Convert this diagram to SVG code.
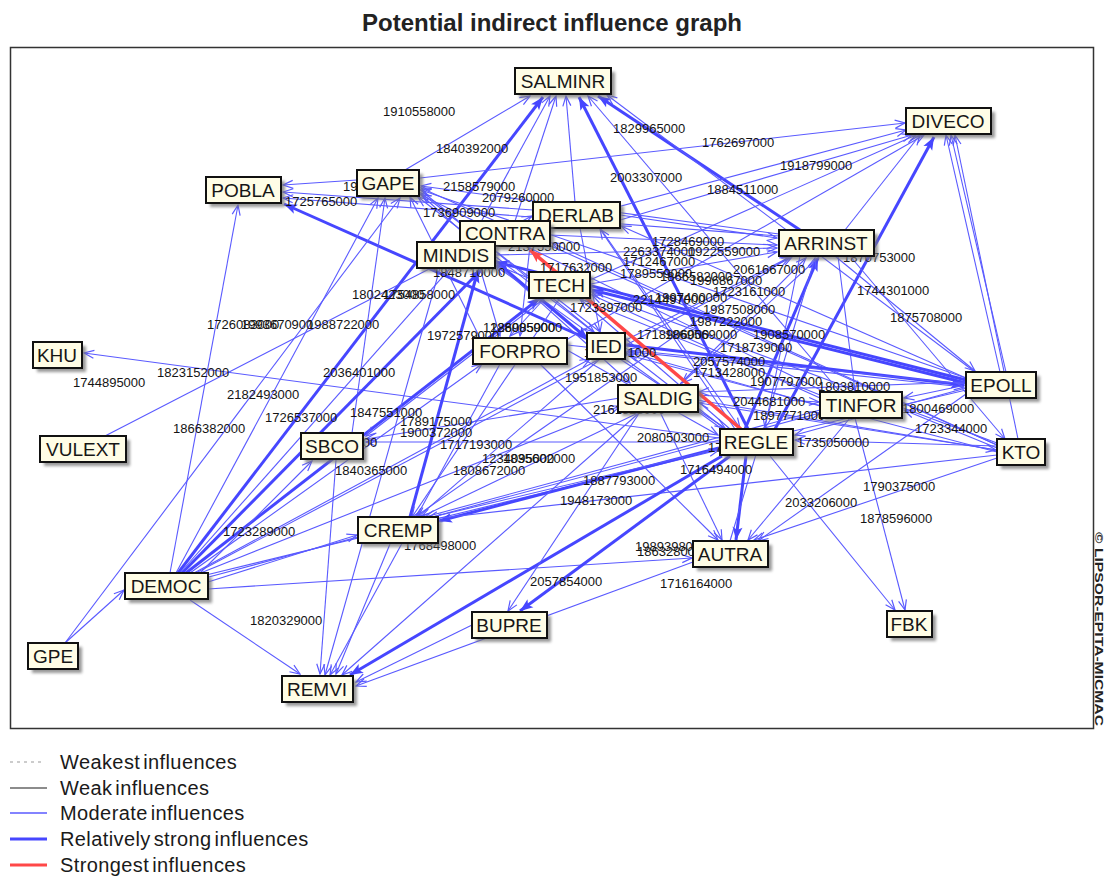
<svg xmlns="http://www.w3.org/2000/svg" width="1107" height="878" viewBox="0 0 1107 878">
<style>
.m{stroke:#5a5aff;stroke-width:1.1;fill:none;marker-end:url(#am)}
.s{stroke:#4646ff;stroke-width:3;fill:none;marker-end:url(#as)}
.r{stroke:#ff4848;stroke-width:3.6;fill:none;marker-end:url(#ar)}
.nb{fill:#fffde6;stroke:#111;stroke-width:2}
.sh{fill:#777;opacity:.75;filter:url(#blur)}
.nt{font-family:"Liberation Sans",Arial,sans-serif;font-size:19px;fill:#161616;text-anchor:middle}
.el text{font-family:"Liberation Sans",Arial,sans-serif;font-size:13px;fill:#141414}
.lg{font-family:"Liberation Sans",Arial,sans-serif;font-size:20px;fill:#1a1a1a;letter-spacing:0.4px;word-spacing:-3px}
</style>
<defs>
<filter id="blur" x="-20%" y="-20%" width="140%" height="140%"><feGaussianBlur stdDeviation="1.5"/></filter>
<marker id="am" viewBox="-12 -6 13 12" refX="0" refY="0" markerWidth="13" markerHeight="12" markerUnits="userSpaceOnUse" orient="auto"><path d="M-10,-4 L0,0 L-10,4" fill="none" stroke="#5a5aff" stroke-width="1.2"/></marker>
<marker id="as" viewBox="-15 -7 16 14" refX="0" refY="0" markerWidth="16" markerHeight="14" markerUnits="userSpaceOnUse" orient="auto"><path d="M-13,-5 L0,0 L-13,5 L-10,0 Z" fill="#4646ff"/></marker>
<marker id="ar" viewBox="-15 -7 16 14" refX="0" refY="0" markerWidth="16" markerHeight="14" markerUnits="userSpaceOnUse" orient="auto"><path d="M-13,-5 L0,0 L-13,5 L-10,0 Z" fill="#ff4848"/></marker>
</defs>
<rect x="0" y="0" width="1107" height="878" fill="#fff"/>
<text x="552" y="31" font-family="'Liberation Sans',Arial,sans-serif" font-size="24" font-weight="bold" fill="#222" text-anchor="middle">Potential indirect influence graph</text>
<rect x="10.5" y="47.5" width="1083" height="681" fill="none" stroke="#333" stroke-width="1.5"/>
<text transform="translate(1095,532) rotate(90)" font-family="'Liberation Sans',Arial,sans-serif" font-size="11" font-weight="bold" fill="#222" textLength="194" lengthAdjust="spacingAndGlyphs">© LIPSOR-EPITA-MICMAC</text>

<g id="connectors">
<line class="m" x1="405" y1="170" x2="530" y2="96"/>
<line class="s" x1="178" y1="573" x2="543" y2="97"/>
<line class="m" x1="470" y1="242" x2="550" y2="96"/>
<line class="m" x1="515" y1="221" x2="556" y2="96"/>
<line class="m" x1="575" y1="202" x2="566" y2="96"/>
<line class="s" x1="748" y1="429" x2="579" y2="97"/>
<line class="s" x1="800" y1="230" x2="598" y2="96"/>
<line class="m" x1="975" y1="372" x2="607" y2="95"/>
<line class="m" x1="840" y1="392" x2="588" y2="96"/>
<line class="m" x1="420" y1="178" x2="905" y2="123"/>
<line class="m" x1="550" y1="225" x2="906" y2="130"/>
<line class="m" x1="620" y1="220" x2="912" y2="135"/>
<line class="m" x1="845" y1="230" x2="920" y2="135"/>
<line class="m" x1="590" y1="280" x2="916" y2="135"/>
<line class="m" x1="566" y1="340" x2="924" y2="135"/>
<line class="s" x1="775" y1="429" x2="934" y2="137"/>
<line class="m" x1="1000" y1="372" x2="946" y2="135"/>
<line class="m" x1="1006" y1="372" x2="951" y2="135"/>
<line class="m" x1="1018" y1="439" x2="955" y2="135"/>
<line class="m" x1="357" y1="180" x2="283" y2="185"/>
<line class="m" x1="533" y1="210" x2="283" y2="192"/>
<line class="s" x1="590" y1="340" x2="284" y2="204"/>
<line class="m" x1="170" y1="573" x2="238" y2="205"/>
<line class="m" x1="779" y1="236" x2="283" y2="198"/>
<line class="m" x1="779" y1="234" x2="421" y2="186"/>
<line class="m" x1="966" y1="378" x2="421" y2="190"/>
<line class="m" x1="725" y1="429" x2="421" y2="193"/>
<line class="m" x1="825" y1="392" x2="421" y2="195"/>
<line class="m" x1="997" y1="445" x2="421" y2="188"/>
<line class="m" x1="595" y1="333" x2="418" y2="197"/>
<line class="m" x1="176" y1="573" x2="378" y2="198"/>
<line class="m" x1="352" y1="433" x2="385" y2="198"/>
<line class="m" x1="65" y1="643" x2="400" y2="198"/>
<line class="m" x1="65" y1="643" x2="124" y2="590"/>
<line class="m" x1="719" y1="438" x2="84" y2="353"/>
<line class="m" x1="105" y1="436" x2="532" y2="216"/>
<line class="s" x1="182" y1="573" x2="482" y2="269"/>
<line class="s" x1="186" y1="573" x2="540" y2="298"/>
<line class="m" x1="190" y1="573" x2="482" y2="364"/>
<line class="m" x1="194" y1="573" x2="590" y2="359"/>
<line class="m" x1="198" y1="574" x2="620" y2="406"/>
<line class="m" x1="202" y1="576" x2="719" y2="450"/>
<line class="m" x1="205" y1="578" x2="820" y2="413"/>
<line class="m" x1="208" y1="582" x2="357" y2="535"/>
<line class="m" x1="208" y1="589" x2="692" y2="558"/>
<line class="m" x1="190" y1="600" x2="300" y2="674"/>
<line class="m" x1="180" y1="573" x2="470" y2="246"/>
<line class="m" x1="200" y1="573" x2="312" y2="461"/>
<line class="m" x1="196" y1="573" x2="792" y2="257"/>
<line class="m" x1="719" y1="442" x2="366" y2="442"/>
<line class="m" x1="545" y1="298" x2="366" y2="436"/>
<line class="m" x1="620" y1="398" x2="366" y2="439"/>
<line class="m" x1="336" y1="460" x2="320" y2="674"/>
<line class="s" x1="719" y1="448" x2="439" y2="521"/>
<line class="m" x1="640" y1="412" x2="421" y2="517"/>
<line class="m" x1="600" y1="359" x2="418" y2="517"/>
<line class="m" x1="820" y1="410" x2="425" y2="517"/>
<line class="m" x1="966" y1="390" x2="428" y2="518"/>
<line class="m" x1="997" y1="455" x2="432" y2="519"/>
<line class="m" x1="790" y1="256" x2="415" y2="517"/>
<line class="s" x1="410" y1="517" x2="478" y2="270"/>
<line class="m" x1="390" y1="544" x2="336" y2="674"/>
<line class="m" x1="560" y1="298" x2="412" y2="517"/>
<line class="s" x1="722" y1="456" x2="350" y2="675"/>
<line class="m" x1="472" y1="625" x2="356" y2="682"/>
<line class="m" x1="693" y1="562" x2="356" y2="686"/>
<line class="m" x1="640" y1="412" x2="342" y2="675"/>
<line class="m" x1="500" y1="364" x2="330" y2="675"/>
<line class="m" x1="440" y1="268" x2="325" y2="675"/>
<line class="s" x1="746" y1="456" x2="736" y2="540"/>
<line class="m" x1="660" y1="412" x2="722" y2="540"/>
<line class="m" x1="850" y1="418" x2="748" y2="540"/>
<line class="m" x1="997" y1="458" x2="754" y2="540"/>
<line class="m" x1="540" y1="364" x2="718" y2="540"/>
<line class="m" x1="966" y1="394" x2="758" y2="541"/>
<line class="s" x1="730" y1="456" x2="520" y2="611"/>
<line class="m" x1="640" y1="412" x2="508" y2="611"/>
<line class="m" x1="855" y1="418" x2="905" y2="610"/>
<line class="m" x1="770" y1="456" x2="895" y2="610"/>
<line class="s" x1="745" y1="429" x2="818" y2="258"/>
<line class="m" x1="730" y1="541" x2="815" y2="258"/>
<line class="m" x1="680" y1="384" x2="806" y2="258"/>
<line class="m" x1="835" y1="256" x2="975" y2="371"/>
<line class="m" x1="850" y1="256" x2="1005" y2="439"/>
<line class="m" x1="838" y1="256" x2="855" y2="391"/>
<line class="m" x1="966" y1="385" x2="904" y2="398"/>
<line class="m" x1="997" y1="448" x2="904" y2="410"/>
<line class="m" x1="997" y1="446" x2="795" y2="440"/>
<line class="m" x1="966" y1="388" x2="795" y2="435"/>
<line class="m" x1="550" y1="235" x2="777" y2="245"/>
<line class="m" x1="620" y1="215" x2="777" y2="238"/>
<line class="m" x1="495" y1="255" x2="777" y2="248"/>
<line class="m" x1="590" y1="284" x2="777" y2="252"/>
<line class="m" x1="966" y1="378" x2="621" y2="226"/>
<line class="s" x1="966" y1="380" x2="496" y2="262"/>
<line class="s" x1="966" y1="383" x2="592" y2="290"/>
<line class="m" x1="997" y1="443" x2="592" y2="292"/>
<line class="m" x1="997" y1="445" x2="552" y2="243"/>
<line class="m" x1="820" y1="395" x2="496" y2="265"/>
<line class="m" x1="820" y1="398" x2="592" y2="295"/>
<line class="m" x1="730" y1="429" x2="580" y2="299"/>
<line class="m" x1="722" y1="429" x2="496" y2="266"/>
<line class="m" x1="735" y1="429" x2="600" y2="229"/>
<line class="m" x1="626" y1="340" x2="790" y2="257"/>
<line class="s" x1="626" y1="345" x2="964" y2="385"/>
<line class="m" x1="567" y1="345" x2="964" y2="387"/>
<line class="m" x1="567" y1="350" x2="718" y2="435"/>
<line class="m" x1="620" y1="359" x2="725" y2="428"/>
<line class="m" x1="697" y1="395" x2="819" y2="402"/>
<line class="m" x1="697" y1="400" x2="996" y2="450"/>
<line class="s" x1="494" y1="260" x2="588" y2="339"/>
<line class="m" x1="530" y1="246" x2="520" y2="336"/>
<line class="m" x1="545" y1="298" x2="510" y2="336"/>
<line class="m" x1="418" y1="188" x2="594" y2="332"/>
<line class="m" x1="418" y1="192" x2="630" y2="383"/>
<line class="m" x1="480" y1="268" x2="500" y2="336"/>
<line class="m" x1="580" y1="228" x2="600" y2="332"/>
<line class="m" x1="600" y1="228" x2="740" y2="428"/>
<line class="m" x1="800" y1="256" x2="765" y2="428"/>
<line class="m" x1="820" y1="256" x2="682" y2="383"/>
<line class="m" x1="966" y1="382" x2="699" y2="392"/>
<line class="m" x1="966" y1="384" x2="628" y2="350"/>
<line class="m" x1="997" y1="450" x2="699" y2="403"/>
<line class="m" x1="997" y1="452" x2="628" y2="355"/>
<line class="m" x1="820" y1="406" x2="628" y2="352"/>
<line class="m" x1="480" y1="338" x2="410" y2="197"/>
<line class="r" x1="742" y1="430" x2="530" y2="250"/>
</g>

<g class="el" id="edge-labels">
<text x="383" y="116">1910558000</text>
<text x="436" y="153">1840392000</text>
<text x="613" y="133">1829965000</text>
<text x="702" y="147">1762697000</text>
<text x="780" y="170">1918799000</text>
<text x="707" y="194">1884511000</text>
<text x="610" y="182">2003307000</text>
<text x="443" y="191">2158579000</text>
<text x="482" y="202">2079260000</text>
<text x="423" y="217">1736909000</text>
<text x="343" y="191">1948530000</text>
<text x="285" y="206">1725765000</text>
<text x="508" y="251">2137550000</text>
<text x="652" y="246">1728469000</text>
<text x="623" y="256">2263374000</text>
<text x="688" y="256">1922559000</text>
<text x="623" y="266">1712467000</text>
<text x="540" y="272">1717632000</text>
<text x="620" y="278">1789559000</text>
<text x="660" y="281">1866582000</text>
<text x="690" y="285">1996867000</text>
<text x="733" y="274">2061667000</text>
<text x="843" y="262">1870753000</text>
<text x="857" y="295">1744301000</text>
<text x="890" y="322">1875708000</text>
<text x="713" y="296">1723161000</text>
<text x="633" y="304">2214497000</text>
<text x="655" y="302">1997400000</text>
<text x="570" y="312">1723397000</text>
<text x="703" y="314">1987508000</text>
<text x="690" y="326">1987222000</text>
<text x="637" y="339">1718906000</text>
<text x="665" y="339">1869569000</text>
<text x="753" y="339">1908570000</text>
<text x="720" y="352">1718739000</text>
<text x="693" y="366">2057574000</text>
<text x="693" y="377">1713428000</text>
<text x="750" y="386">1907797000</text>
<text x="818" y="391">1803810000</text>
<text x="733" y="406">2044681000</text>
<text x="753" y="420">1897771000</text>
<text x="902" y="413">1800469000</text>
<text x="915" y="433">1723344000</text>
<text x="797" y="447">1735050000</text>
<text x="863" y="491">1790375000</text>
<text x="785" y="507">2033206000</text>
<text x="860" y="523">1878596000</text>
<text x="680" y="474">1716494000</text>
<text x="637" y="442">2080503000</text>
<text x="708" y="452">1769370000</text>
<text x="583" y="485">1887793000</text>
<text x="560" y="505">1948173000</text>
<text x="565" y="382">1951853000</text>
<text x="584" y="357">1806851000</text>
<text x="593" y="414">2161528000</text>
<text x="635" y="551">1989398000</text>
<text x="637" y="556">1863280000</text>
<text x="530" y="586">2057854000</text>
<text x="660" y="588">1716164000</text>
<text x="404" y="550">1768498000</text>
<text x="335" y="475">1840365000</text>
<text x="453" y="475">1808672000</text>
<text x="482" y="463">1234095000</text>
<text x="503" y="463">1835602000</text>
<text x="440" y="449">1717193000</text>
<text x="400" y="437">1900372000</text>
<text x="400" y="426">1789175000</text>
<text x="350" y="417">1847551000</text>
<text x="305" y="447">1857462000</text>
<text x="173" y="433">1866382000</text>
<text x="265" y="422">1726537000</text>
<text x="227" y="399">2182493000</text>
<text x="323" y="377">2036401000</text>
<text x="157" y="377">1823152000</text>
<text x="73" y="387">1744895000</text>
<text x="207" y="329">1726083000</text>
<text x="241" y="329">1993670900</text>
<text x="307" y="329">1988722000</text>
<text x="352" y="299">1802423000</text>
<text x="383" y="299">1754858000</text>
<text x="433" y="277">1848710000</text>
<text x="427" y="340">1972579000</text>
<text x="483" y="332">1286085000</text>
<text x="490" y="332">1289059000</text>
<text x="223" y="536">1723289000</text>
<text x="250" y="625">1820329000</text>
</g>

<g id="n-SALMINR"><rect class="sh" x="519" y="72" width="96" height="26"/><rect class="nb" x="515" y="68" width="96" height="26"/><text class="nt" x="563" y="88">SALMINR</text></g>
<g id="n-DIVECO"><rect class="sh" x="910" y="112" width="85" height="26"/><rect class="nb" x="906" y="108" width="85" height="26"/><text class="nt" x="948" y="128">DIVECO</text></g>
<g id="n-POBLA"><rect class="sh" x="210" y="181" width="75" height="26"/><rect class="nb" x="206" y="177" width="75" height="26"/><text class="nt" x="243" y="197">POBLA</text></g>
<g id="n-GAPE"><rect class="sh" x="361" y="174" width="62" height="26"/><rect class="nb" x="357" y="170" width="62" height="26"/><text class="nt" x="388" y="190">GAPE</text></g>
<g id="n-DERLAB"><rect class="sh" x="537" y="206" width="87" height="26"/><rect class="nb" x="533" y="202" width="87" height="26"/><text class="nt" x="576" y="222">DERLAB</text></g>
<g id="n-CONTRA"><rect class="sh" x="464" y="225" width="90" height="25"/><rect class="nb" x="460" y="221" width="90" height="25"/><text class="nt" x="505" y="240">CONTRA</text></g>
<g id="n-ARRINST"><rect class="sh" x="783" y="234" width="95" height="26"/><rect class="nb" x="779" y="230" width="95" height="26"/><text class="nt" x="826" y="250">ARRINST</text></g>
<g id="n-MINDIS"><rect class="sh" x="421" y="246" width="78" height="26"/><rect class="nb" x="417" y="242" width="78" height="26"/><text class="nt" x="456" y="262">MINDIS</text></g>
<g id="n-TECH"><rect class="sh" x="533" y="276" width="61" height="26"/><rect class="nb" x="529" y="272" width="61" height="26"/><text class="nt" x="559" y="292">TECH</text></g>
<g id="n-KHU"><rect class="sh" x="37" y="346" width="49" height="26"/><rect class="nb" x="33" y="342" width="49" height="26"/><text class="nt" x="57" y="362">KHU</text></g>
<g id="n-FORPRO"><rect class="sh" x="477" y="342" width="94" height="26"/><rect class="nb" x="473" y="338" width="94" height="26"/><text class="nt" x="520" y="358">FORPRO</text></g>
<g id="n-IED"><rect class="sh" x="591" y="337" width="38" height="26"/><rect class="nb" x="587" y="333" width="38" height="26"/><text class="nt" x="606" y="353">IED</text></g>
<g id="n-EPOLL"><rect class="sh" x="970" y="376" width="70" height="26"/><rect class="nb" x="966" y="372" width="70" height="26"/><text class="nt" x="1001" y="392">EPOLL</text></g>
<g id="n-SALDIG"><rect class="sh" x="622" y="389" width="80" height="27"/><rect class="nb" x="618" y="385" width="80" height="27"/><text class="nt" x="658" y="405">SALDIG</text></g>
<g id="n-TINFOR"><rect class="sh" x="824" y="396" width="82" height="26"/><rect class="nb" x="820" y="392" width="82" height="26"/><text class="nt" x="861" y="412">TINFOR</text></g>
<g id="n-VULEXT"><rect class="sh" x="44" y="440" width="86" height="26"/><rect class="nb" x="40" y="436" width="86" height="26"/><text class="nt" x="83" y="456">VULEXT</text></g>
<g id="n-SBCO"><rect class="sh" x="305" y="437" width="62" height="26"/><rect class="nb" x="301" y="433" width="62" height="26"/><text class="nt" x="332" y="453">SBCO</text></g>
<g id="n-REGLE"><rect class="sh" x="724" y="433" width="73" height="26"/><rect class="nb" x="720" y="429" width="73" height="26"/><text class="nt" x="756" y="449">REGLE</text></g>
<g id="n-KTO"><rect class="sh" x="1001" y="443" width="48" height="26"/><rect class="nb" x="997" y="439" width="48" height="26"/><text class="nt" x="1021" y="459">KTO</text></g>
<g id="n-CREMP"><rect class="sh" x="362" y="521" width="80" height="26"/><rect class="nb" x="358" y="517" width="80" height="26"/><text class="nt" x="398" y="537">CREMP</text></g>
<g id="n-AUTRA"><rect class="sh" x="697" y="545" width="75" height="26"/><rect class="nb" x="693" y="541" width="75" height="26"/><text class="nt" x="730" y="561">AUTRA</text></g>
<g id="n-DEMOC"><rect class="sh" x="129" y="577" width="83" height="26"/><rect class="nb" x="125" y="573" width="83" height="26"/><text class="nt" x="166" y="593">DEMOC</text></g>
<g id="n-BUPRE"><rect class="sh" x="476" y="616" width="75" height="26"/><rect class="nb" x="472" y="612" width="75" height="26"/><text class="nt" x="509" y="632">BUPRE</text></g>
<g id="n-FBK"><rect class="sh" x="891" y="615" width="45" height="26"/><rect class="nb" x="887" y="611" width="45" height="26"/><text class="nt" x="909" y="631">FBK</text></g>
<g id="n-GPE"><rect class="sh" x="32" y="647" width="50" height="26"/><rect class="nb" x="28" y="643" width="50" height="26"/><text class="nt" x="53" y="663">GPE</text></g>
<g id="n-REMVI"><rect class="sh" x="286" y="680" width="71" height="26"/><rect class="nb" x="282" y="676" width="71" height="26"/><text class="nt" x="317" y="696">REMVI</text></g>

<g id="legend">
<line x1="10" y1="762" x2="42" y2="762" stroke="#999" stroke-width="1" stroke-dasharray="3,4"/>
<line x1="10" y1="788" x2="47" y2="788" stroke="#666" stroke-width="1.3"/>
<line x1="10" y1="813" x2="47" y2="813" stroke="#5a5aff" stroke-width="1.3"/>
<line x1="10" y1="839" x2="47" y2="839" stroke="#4646ff" stroke-width="3"/>
<line x1="10" y1="865" x2="47" y2="865" stroke="#ff4848" stroke-width="3"/>
<text class="lg" x="60" y="769">Weakest influences</text>
<text class="lg" x="60" y="795">Weak influences</text>
<text class="lg" x="60" y="820">Moderate influences</text>
<text class="lg" x="60" y="846">Relatively strong influences</text>
<text class="lg" x="60" y="872">Strongest influences</text>
</g>
</svg>
